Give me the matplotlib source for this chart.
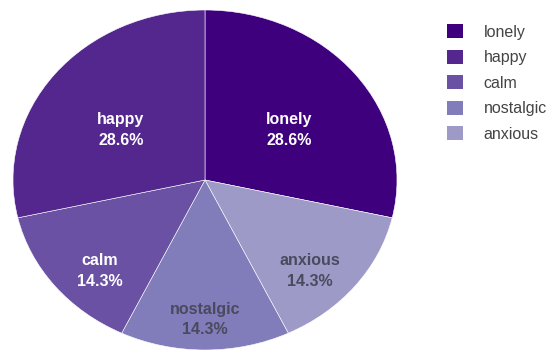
import numpy as np
import matplotlib.pyplot as plt
from matplotlib.patches import Patch

plt.rcParams['font.family'] = ['Liberation Sans', 'DejaVu Sans']

# legend order
labels = ['lonely', 'happy', 'calm', 'nostalgic', 'anxious']
counts = [2, 2, 1, 1, 1]
colors = ['#3f007d', '#54278f', '#6a51a3', '#807dba', '#9e9ac8']

# order the slices are drawn in, clockwise from 12 o'clock
pie_order = ['lonely', 'anxious', 'nostalgic', 'calm', 'happy']
# label placement along the slice's mid angle (x factor, y factor)
label_r = {'lonely': (0.56, 0.47), 'happy': (0.56, 0.47), 'calm': (0.70, 0.86),
           'nostalgic': (0.82, 0.82), 'anxious': (0.70, 0.86)}
label_col = {'lonely': 'white', 'happy': 'white', 'calm': 'white',
             'nostalgic': '#4a4a5e', 'anxious': '#4a4a5e'}

W, H = 553, 352
fig = plt.figure(figsize=(W / 100, H / 100), dpi=100)
# pie is an ellipse ~384 x 340 px centred at (205, 180)
ax = fig.add_axes([13 / W, (H - 350) / H, 384 / W, 340 / H])

idx = [labels.index(n) for n in pie_order]
vals = [counts[i] for i in idx]
cols = [colors[i] for i in idx]
wedges, _ = ax.pie(vals, colors=cols, startangle=90, counterclock=False,
                   wedgeprops=dict(edgecolor='white', linewidth=0.4))
ax.set_aspect('auto')
ax.set_xlim(-1, 1)
ax.set_ylim(-1, 1)

total = sum(vals)
for w, name, v in zip(wedges, pie_order, vals):
    mid = np.deg2rad((w.theta1 + w.theta2) / 2)
    rx, ry = label_r[name]
    ax.text(rx * np.cos(mid), ry * np.sin(mid), f'{name}\n{100 * v / total:.1f}%',
            ha='center', va='center', fontsize=11.5, fontweight='bold',
            color=label_col[name], linespacing=1.45)

handles = [Patch(facecolor=c, edgecolor='none') for c in colors]
fig.legend(handles, labels, loc='upper left', bbox_to_anchor=(447 / W, 1 - 24 / H),
           frameon=False, fontsize=11.5, handlelength=1.0, handleheight=1.0,
           handletextpad=1.3, labelspacing=0.62, borderpad=0, borderaxespad=0,
           labelcolor='#444444')

fig.savefig('out.png', dpi=100)
